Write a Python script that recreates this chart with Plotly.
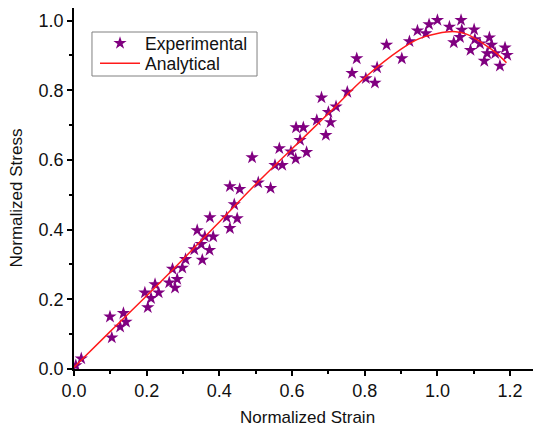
import plotly.graph_objects as go

exp_strain = [0.005, 0.020, 0.099, 0.104, 0.127, 0.136, 0.143, 0.195, 0.203, 0.212,
              0.223, 0.233, 0.262, 0.271, 0.278, 0.284, 0.298, 0.307, 0.331, 0.339,
              0.350, 0.353, 0.360, 0.373, 0.374, 0.383, 0.420, 0.429, 0.429, 0.441,
              0.449, 0.456, 0.490, 0.507, 0.541, 0.553, 0.565, 0.573, 0.597, 0.610,
              0.611, 0.622, 0.631, 0.640, 0.668, 0.681, 0.693, 0.700, 0.706, 0.721,
              0.752, 0.765, 0.778, 0.803, 0.828, 0.834, 0.860, 0.902, 0.923, 0.945,
              0.968, 0.977, 1.000, 1.033, 1.045, 1.062, 1.065, 1.067, 1.091, 1.101,
              1.103, 1.117, 1.129, 1.137, 1.143, 1.149, 1.159, 1.172, 1.186, 1.192]
exp_stress = [0.010, 0.030, 0.150, 0.090, 0.121, 0.160, 0.135, 0.219, 0.177, 0.203,
              0.243, 0.219, 0.248, 0.287, 0.233, 0.258, 0.290, 0.315, 0.343, 0.398,
              0.358, 0.313, 0.380, 0.341, 0.435, 0.380, 0.435, 0.404, 0.524, 0.472,
              0.432, 0.516, 0.607, 0.535, 0.519, 0.585, 0.633, 0.585, 0.624, 0.603,
              0.693, 0.657, 0.693, 0.622, 0.714, 0.779, 0.671, 0.737, 0.708, 0.753,
              0.795, 0.849, 0.891, 0.834, 0.821, 0.865, 0.930, 0.891, 0.940, 0.971,
              0.963, 0.989, 1.001, 0.982, 0.937, 0.952, 1.001, 0.973, 0.915, 0.974,
              0.946, 0.934, 0.884, 0.906, 0.951, 0.930, 0.906, 0.870, 0.922, 0.901]

# Analytical curve
ana_strain = [0.0, 0.1, 0.2, 0.3, 0.4, 0.5, 0.6, 0.7, 0.8, 0.9, 0.95, 1.0, 1.05, 1.08, 1.126, 1.163, 1.19]
ana_stress = [0.005, 0.108, 0.210, 0.315, 0.422, 0.530, 0.632, 0.733, 0.836, 0.918, 0.948, 0.963, 0.968, 0.961, 0.934, 0.906, 0.879]

x_ticks = [0.0, 0.2, 0.4, 0.6, 0.8, 1.0, 1.2]
x_tick_labels = ["0.0", "0.2", "0.4", "0.6", "0.8", "1.0", "1.2"]
y_ticks = [0.0, 0.2, 0.4, 0.6, 0.8, 1.0]
y_tick_labels = ["0.0", "0.2", "0.4", "0.6", "0.8", "1.0"]

FONT = "Liberation Sans, Arial, sans-serif"

fig = go.Figure()
fig.add_trace(go.Scatter(
    x=exp_strain, y=exp_stress, mode="markers", name="Experimental",
    marker=dict(symbol="star", size=10, color="#800080", line=dict(width=0)),
    legend="legend",
))
fig.add_trace(go.Scatter(
    x=ana_strain, y=ana_stress, mode="lines", name="Analytical",
    line=dict(color="#ff1a1a", width=1.5, shape="spline"),
    legend="legend2",
))

axis_common = dict(
    showgrid=False, zeroline=False, showline=True, linecolor="#000000", linewidth=1.5,
    ticks="outside", ticklen=5, tickwidth=1.5, tickcolor="#000000",
    tickfont=dict(family=FONT, size=18, color="#111111"),
)

fig.update_xaxes(range=[0, 1.285], tickvals=x_ticks, ticktext=x_tick_labels,
                 minor=dict(dtick=0.1, tick0=0, ticks="outside", ticklen=3, tickcolor="#000000", tickwidth=1.5),
                 **axis_common)
fig.update_yaxes(range=[0, 1.036], tickvals=y_ticks, ticktext=y_tick_labels,
                 minor=dict(dtick=0.1, tick0=0, ticks="outside", ticklen=3, tickcolor="#000000", tickwidth=1.5),
                 **axis_common)

fig.add_annotation(text="Normalized Strain", xref="paper", yref="paper",
                   x=0.5, y=-0.1357, xanchor="center", yanchor="middle", showarrow=False,
                   font=dict(family=FONT, size=17, color="#111111"))
fig.add_annotation(text="Normalized Stress", xref="paper", yref="paper",
                   x=-0.121, y=0.4737, xanchor="center", yanchor="middle", showarrow=False,
                   textangle=-90, font=dict(family=FONT, size=17, color="#111111"))

# legend frame shared by the two legend rows
fig.add_shape(type="rect", xref="paper", yref="paper",
              x0=0.0385, x1=0.3919, y0=0.8116, y1=0.9335,
              line=dict(color="#808080", width=1), fillcolor="white", layer="below")

legend_common = dict(xanchor="left", yanchor="middle", borderwidth=0,
                     bgcolor="rgba(0,0,0,0)",
                     font=dict(family=FONT, size=17.5, color="#111111"),
                     itemwidth=40)

# The page body keeps an 8px default margin, so the figure is sized to fit the window.
fig.update_layout(
    width=533, height=426,
    margin=dict(l=66, r=0, t=0, b=65),
    paper_bgcolor="white", plot_bgcolor="white",
    showlegend=True,
    legend=dict(x=0.045, y=0.9022, **legend_common),
    legend2=dict(x=0.045, y=0.8468, **legend_common),
)

fig.write_html("out.html")
